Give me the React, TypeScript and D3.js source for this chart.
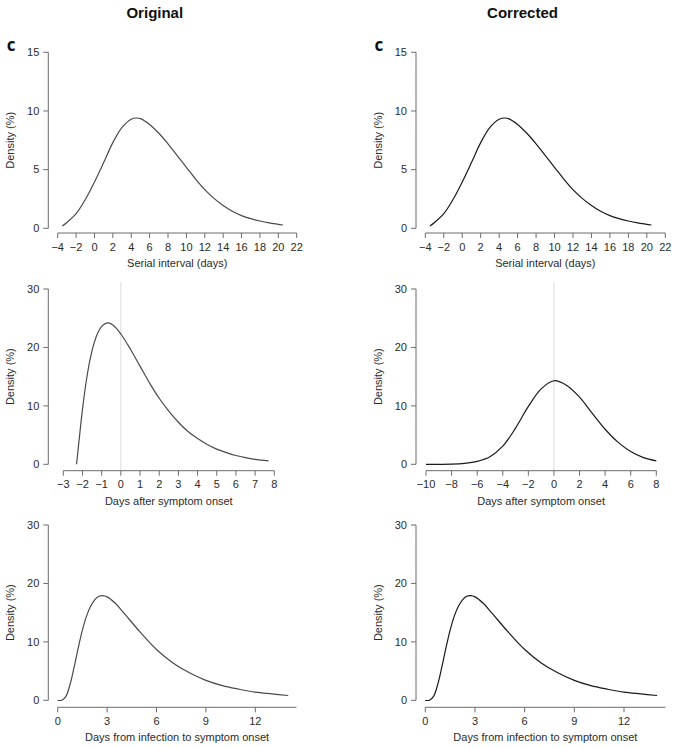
import * as d3 from "d3"

// serial interval (days) vs density (%)
const serialDays = [-3.5, -3, -2, -1, 0, 1, 2, 3, 4, 4.6, 5, 6, 7, 8, 9, 10, 11, 12, 13, 14, 15, 16, 17, 18, 19, 20, 20.5]
const serialOriginal = [0.2, 0.5, 1.25, 2.45, 3.95, 5.6, 7.3, 8.6, 9.3, 9.4, 9.35, 8.85, 8.1, 7.2, 6.2, 5.2, 4.2, 3.3, 2.55, 1.95, 1.45, 1.08, 0.82, 0.62, 0.46, 0.34, 0.28]
const serialCorrected = [0.2, 0.5, 1.25, 2.45, 3.95, 5.6, 7.3, 8.6, 9.3, 9.4, 9.35, 8.85, 8.1, 7.2, 6.2, 5.2, 4.2, 3.3, 2.55, 1.95, 1.45, 1.08, 0.82, 0.62, 0.46, 0.34, 0.28]

// infectiousness, days after symptom onset
const onsetOriginalDays = [-2.31, -2.2, -2, -1.8, -1.6, -1.4, -1.2, -1, -0.7, -0.4, 0, 0.5, 1, 1.5, 2, 2.5, 3, 3.5, 4, 4.5, 5, 5.5, 6, 6.5, 7, 7.7]
const onsetOriginal = [0, 3.4, 9.4, 14.3, 18.0, 20.7, 22.5, 23.6, 24.2, 23.8, 22.3, 19.7, 16.8, 13.9, 11.3, 9.1, 7.2, 5.6, 4.4, 3.4, 2.6, 2.0, 1.5, 1.13, 0.85, 0.6]
const onsetCorrectedDays = [-10, -9, -8, -7, -6, -5, -4, -3, -2, -1, 0, 1, 2, 3, 4, 5, 6, 7, 8]
const onsetCorrected = [0, 0, 0.02, 0.15, 0.5, 1.3, 3.1, 6.2, 9.9, 12.9, 14.3, 13.5, 11.5, 8.7, 6.0, 3.8, 2.2, 1.15, 0.6]

// incubation period, days from infection to symptom onset
const incubationDays = [0, 0.25, 0.5, 0.75, 1, 1.25, 1.5, 1.75, 2, 2.25, 2.5, 2.75, 3, 3.5, 4, 5, 6, 7, 8, 9, 10, 11, 12, 13, 14]
const incubationOriginal = [0, 0.02, 0.68, 2.7, 5.7, 9.0, 12.0, 14.4, 16.1, 17.2, 17.8, 17.9, 17.7, 16.6, 15.0, 11.7, 8.7, 6.4, 4.7, 3.4, 2.5, 1.9, 1.4, 1.1, 0.82]
const incubationCorrected = [0, 0.02, 0.68, 2.7, 5.7, 9.0, 12.0, 14.4, 16.1, 17.2, 17.8, 17.9, 17.7, 16.6, 15.0, 11.7, 8.7, 6.4, 4.7, 3.4, 2.5, 1.9, 1.4, 1.1, 0.82]

const serialTicks = [-4, -2, 0, 2, 4, 6, 8, 10, 12, 14, 16, 18, 20, 22]
const onsetOriginalTicks = [-3, -2, -1, 0, 1, 2, 3, 4, 5, 6, 7, 8]
const onsetCorrectedTicks = [-10, -8, -6, -4, -2, 0, 2, 4, 6, 8]
const incubationTicks = [0, 3, 6, 9, 12]
const serialYTicks = [0, 5, 10, 15]
const densityYTicks = [0, 10, 20, 30]

const columnTitles = ["Original", "Corrected"]

const font = "'Liberation Sans', Arial, Helvetica, sans-serif"
const fmt = d3.format("d")

type PanelProps = {
  axisX: number
  top: number
  bottom: number
  axisY: number
  xTicks: number[]
  xStart: number
  xEnd: number
  xAxisMax?: number
  yTicks: number[]
  xs: number[]
  ys: number[]
  xLabel: string
  vline?: boolean
  stroke: string
}

function Panel(p: PanelProps) {
  const x = d3
    .scaleLinear()
    .domain([p.xTicks[0], p.xTicks[p.xTicks.length - 1]])
    .range([p.xStart, p.xEnd])
  const y = d3
    .scaleLinear()
    .domain([0, p.yTicks[p.yTicks.length - 1]])
    .range([p.bottom, p.top])

  const points = p.xs.map((d, i) => [d, p.ys[i]] as [number, number])
  const path = d3
    .line<[number, number]>()
    .x((d) => x(d[0]))
    .y((d) => y(d[1]))
    .curve(d3.curveCatmullRom.alpha(0.5))(points)

  const axisEnd = x(p.xAxisMax ?? p.xTicks[p.xTicks.length - 1])
  const axisColor = "#6b6b6b"
  const textColor = "#2b2b2b"

  return (
    <g fontFamily={font} fontSize={11} fill={textColor}>
      {p.vline && (
        <line x1={x(0)} x2={x(0)} y1={p.top - 7} y2={p.axisY} stroke="#dcdcdc" strokeWidth={1} />
      )}
      {/* y axis */}
      <line x1={p.axisX} x2={p.axisX} y1={y(0)} y2={y(p.yTicks[p.yTicks.length - 1])} stroke={axisColor} />
      {p.yTicks.map((t) => (
        <g key={t}>
          <line x1={p.axisX - 5} x2={p.axisX} y1={y(t)} y2={y(t)} stroke={axisColor} />
          <text x={p.axisX - 9} y={y(t)} dy="0.35em" textAnchor="end">
            {t}
          </text>
        </g>
      ))}
      <text
        transform={`translate(${p.axisX - 34}, ${(p.top + p.bottom) / 2}) rotate(-90)`}
        textAnchor="middle"
      >
        Density (%)
      </text>
      {/* x axis */}
      <line x1={p.xStart} x2={axisEnd} y1={p.axisY} y2={p.axisY} stroke={axisColor} />
      {p.xTicks.map((t) => (
        <g key={t}>
          <line x1={x(t)} x2={x(t)} y1={p.axisY} y2={p.axisY + 5} stroke={axisColor} />
          <text x={x(t)} y={p.axisY + 17.5} textAnchor="middle">
            {fmt(t)}
          </text>
        </g>
      ))}
      <text x={(p.xStart + axisEnd) / 2} y={p.axisY + 34} textAnchor="middle">
        {p.xLabel}
      </text>
      <path d={path ?? ""} fill="none" stroke={p.stroke} strokeWidth={1.2} />
    </g>
  )
}

export default function App() {
  const cols = [48.3, 416]
  const strokes = ["#4a4a4a", "#1a1a1a"]

  return (
    <svg
      width={685}
      height={747}
      viewBox="0 0 685 747"
      style={{ position: "absolute", left: 0, top: 0, background: "#fff" }}
    >
      <rect width={685} height={747} fill="#fff" />
      {columnTitles.map((title, i) => (
        <g key={title}>
          <text
            x={cols[i] + 106.5}
            y={17.5}
            textAnchor="middle"
            fontFamily={font}
            fontWeight="bold"
            fontSize={15}
            fill="#111"
          >
            {title}
          </text>
          <text
            x={cols[i] - 41.6}
            y={50.7}
            fontFamily="'Open Sans', 'Noto Sans', sans-serif"
            fontWeight="bold"
            fontSize={17}
            fill="#111"
          >
            c
          </text>
        </g>
      ))}

      <Panel
        axisX={cols[0]}
        top={52.3}
        bottom={228.3}
        axisY={233}
        xTicks={serialTicks}
        xStart={57.7}
        xEnd={296.7}
        yTicks={serialYTicks}
        xs={serialDays}
        ys={serialOriginal}
        xLabel="Serial interval (days)"
        stroke={strokes[0]}
      />
      <Panel
        axisX={cols[1]}
        top={52.3}
        bottom={228.3}
        axisY={233}
        xTicks={serialTicks}
        xStart={425.3}
        xEnd={665.3}
        yTicks={serialYTicks}
        xs={serialDays}
        ys={serialCorrected}
        xLabel="Serial interval (days)"
        stroke={strokes[1]}
      />

      <Panel
        axisX={cols[0]}
        top={289}
        bottom={464.3}
        axisY={470.7}
        xTicks={onsetOriginalTicks}
        xStart={63.3}
        xEnd={274.3}
        yTicks={densityYTicks}
        xs={onsetOriginalDays}
        ys={onsetOriginal}
        xLabel="Days after symptom onset"
        vline
        stroke={strokes[0]}
      />
      <Panel
        axisX={cols[1]}
        top={289}
        bottom={464.3}
        axisY={470.7}
        xTicks={onsetCorrectedTicks}
        xStart={426}
        xEnd={656.3}
        yTicks={densityYTicks}
        xs={onsetCorrectedDays}
        ys={onsetCorrected}
        xLabel="Days after symptom onset"
        vline
        stroke={strokes[1]}
      />

      <Panel
        axisX={cols[0]}
        top={525}
        bottom={700.3}
        axisY={707.3}
        xTicks={incubationTicks}
        xStart={57.7}
        xEnd={255.3}
        xAxisMax={14.5}
        yTicks={densityYTicks}
        xs={incubationDays}
        ys={incubationOriginal}
        xLabel="Days from infection to symptom onset"
        stroke={strokes[0]}
      />
      <Panel
        axisX={cols[1]}
        top={525}
        bottom={700.3}
        axisY={707.3}
        xTicks={incubationTicks}
        xStart={425.3}
        xEnd={624}
        xAxisMax={14.5}
        yTicks={densityYTicks}
        xs={incubationDays}
        ys={incubationCorrected}
        xLabel="Days from infection to symptom onset"
        stroke={strokes[1]}
      />
    </svg>
  )
}
